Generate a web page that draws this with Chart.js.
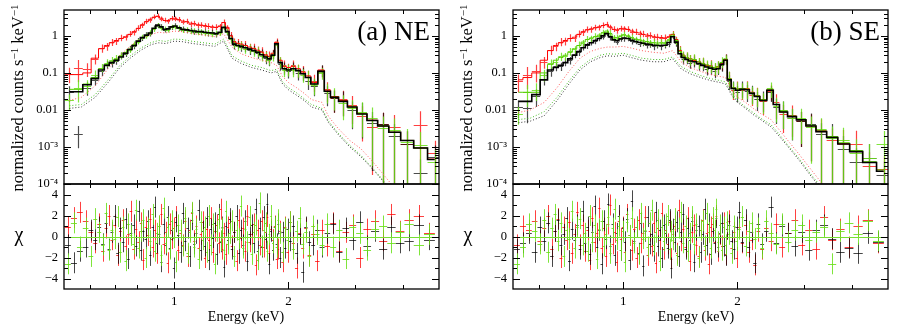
<!DOCTYPE html>
<html>
<head>
<meta charset="utf-8">
<script src="https://cdn.jsdelivr.net/npm/chart.js@4.4.1/dist/chart.umd.min.js"></script>
<style>
  html, body { margin: 0; padding: 0; background: #fff; }
  body { width: 900px; height: 332px; position: relative; overflow: hidden; font-family: "Liberation Serif", serif; color: #000; }
  canvas { position: absolute; }
  .ylab { position: absolute; font-size: 16.5px; white-space: nowrap; line-height: 1; transform: translate(-50%, -50%) rotate(-90deg); }
  .ylab sup { font-size: 11px; vertical-align: 0.45em; line-height: 0; }
  .chi { position: absolute; font-size: 20px; line-height: 1; transform: translate(-50%, -50%); }
  .xlab { position: absolute; font-size: 14px; line-height: 1; white-space: nowrap; transform: translate(-50%, -50%); }
  .tag { position: absolute; font-size: 27px; line-height: 27px; white-space: nowrap; }
</style>
</head>
<body>
<canvas id="neSpec" width="445" height="200" style="left:0;top:0"></canvas>
<canvas id="neChi" width="445" height="162" style="left:0;top:170px"></canvas>
<canvas id="seSpec" width="445" height="200" style="left:449px;top:0"></canvas>
<canvas id="seChi" width="445" height="162" style="left:449px;top:170px"></canvas>

<div class="ylab" style="left:18px;top:98px">normalized counts s<sup>−1</sup> keV<sup>−1</sup></div>
<div class="ylab" style="left:467px;top:98px">normalized counts s<sup>−1</sup> keV<sup>−1</sup></div>
<div class="chi" style="left:19px;top:234px">χ</div>
<div class="chi" style="left:468px;top:234px">χ</div>
<div class="xlab" style="left:246px;top:317px">Energy (keV)</div>
<div class="xlab" style="left:696px;top:317px">Energy (keV)</div>
<div class="tag" style="right:470px;top:18px">(a) NE</div>
<div class="tag" style="right:20px;top:18px">(b) SE</div>

<script>
// spectral bin centres (keV), shared by both regions
const energy = [
  0.53, 0.56, 0.59, 0.62, 0.645, 0.665, 0.685, 0.705, 0.725, 0.745,
  0.765, 0.785, 0.805, 0.825, 0.845, 0.865, 0.885, 0.905, 0.925, 0.945,
  0.965, 0.985, 1.005, 1.03, 1.055, 1.08, 1.105, 1.13, 1.155, 1.18,
  1.205, 1.23, 1.26, 1.29, 1.32, 1.35, 1.38, 1.41, 1.44, 1.47,
  1.50, 1.54, 1.58, 1.62, 1.66, 1.70, 1.74, 1.78, 1.82, 1.86,
  1.90, 1.95, 2.00, 2.06, 2.12, 2.18, 2.25, 2.33, 2.45, 2.52,
  2.64, 2.78, 2.94, 3.12, 3.32, 3.55, 3.80, 4.10, 4.45, 4.85
];
// residual bin centres (keV)
const chiEnergy = [
  0.525, 0.545, 0.565, 0.585, 0.605, 0.62, 0.635, 0.65, 0.662, 0.674,
  0.686, 0.698, 0.71, 0.722, 0.734, 0.746, 0.758, 0.77, 0.782, 0.794,
  0.806, 0.818, 0.83, 0.842, 0.854, 0.866, 0.878, 0.89, 0.902, 0.914,
  0.926, 0.938, 0.95, 0.962, 0.974, 0.986, 0.998, 1.01, 1.025, 1.04,
  1.055, 1.07, 1.085, 1.1, 1.115, 1.13, 1.145, 1.16, 1.175, 1.19,
  1.205, 1.22, 1.235, 1.25, 1.265, 1.28, 1.295, 1.31, 1.325, 1.34,
  1.355, 1.37, 1.385, 1.4, 1.42, 1.44, 1.46, 1.48, 1.5, 1.52,
  1.54, 1.56, 1.58, 1.6, 1.62, 1.64, 1.66, 1.68, 1.7, 1.72,
  1.74, 1.76, 1.78, 1.8, 1.82, 1.84, 1.86, 1.88, 1.9, 1.93,
  1.96, 1.99, 2.02, 2.06, 2.1, 2.14, 2.18, 2.22, 2.27, 2.32,
  2.38, 2.45, 2.53, 2.62, 2.72, 2.83, 2.95, 3.08, 3.22, 3.38,
  3.55, 3.73, 3.93, 4.15, 4.4, 4.7
];
// energies of the dotted background components
const bgEnergy = [
  0.53, 0.57, 0.62, 0.67, 0.72, 0.77, 0.82, 0.87, 0.91, 0.95,
  1.0, 1.05, 1.12, 1.2, 1.28, 1.35, 1.42, 1.5, 1.6, 1.7,
  1.8, 1.86, 1.93, 2.0, 2.1, 2.2, 2.3, 2.45, 2.55, 2.7,
  2.9, 3.1, 3.3, 3.5, 3.7, 3.9, 4.2, 4.5
];

const specTicks = [1e-4, 1e-3, 0.01, 0.1, 1];
const specTickLabels = ['10⁻⁴', '10⁻³', '0.01', '0.1', '1'];
const chiTicks = [-4, -2, 0, 2, 4];
const chiTickLabels = ['−4', '−2', '0', '2', '4'];
const energyTicks = [1, 2];
const energyTickLabels = ['1', '2'];

// ---- (a) NE ----
const neBlackModel = [
  0.031, 0.031, 0.048, 0.07, 0.12, 0.16, 0.19, 0.22, 0.27, 0.34,
  0.43, 0.55, 0.72, 0.9, 1.05, 1.2, 1.6, 1.95, 1.75, 1.5,
  1.55, 1.75, 1.85, 1.65, 1.5, 1.45, 1.4, 1.35, 1.3, 1.3,
  1.25, 1.22, 1.2, 1.15, 1.25, 1.7, 1.3, 0.85, 0.6, 0.55,
  0.52, 0.48, 0.44, 0.4, 0.36, 0.31, 0.27, 0.24, 0.3, 0.61,
  0.19, 0.13, 0.12, 0.13, 0.115, 0.095, 0.075, 0.05, 0.11, 0.032,
  0.022, 0.017, 0.012, 0.0078, 0.0052, 0.0037, 0.0025, 0.0015, 0.00094, 0.00046
];
const neRedModel = [
  0.09, 0.09, 0.1, 0.25, 0.45, 0.55, 0.65, 0.75, 0.85, 0.95,
  1.1, 1.3, 1.6, 2.0, 2.4, 2.8, 3.2, 3.4, 3.0, 2.6,
  2.6, 2.9, 3.0, 2.7, 2.5, 2.4, 2.2, 2.1, 2.0, 1.95,
  1.9, 1.8, 1.75, 1.7, 1.85, 2.3, 1.7, 1.0, 0.7, 0.63,
  0.6, 0.55, 0.5, 0.46, 0.41, 0.36, 0.31, 0.28, 0.34, 0.68,
  0.22, 0.15, 0.14, 0.15, 0.13, 0.105, 0.083, 0.055, 0.12, 0.034,
  0.023, 0.018, 0.012, 0.008, 0.0053, 0.0037, 0.0025, 0.0015, 0.00094, 0.00047
];
const neGreenModel = [
  0.036, 0.036, 0.05, 0.075, 0.13, 0.17, 0.2, 0.23, 0.28, 0.35,
  0.44, 0.56, 0.72, 0.88, 1.02, 1.18, 1.55, 1.9, 1.7, 1.48,
  1.52, 1.7, 1.8, 1.6, 1.47, 1.42, 1.37, 1.32, 1.28, 1.27,
  1.22, 1.2, 1.17, 1.13, 1.22, 1.65, 1.27, 0.84, 0.6, 0.55,
  0.52, 0.48, 0.44, 0.4, 0.36, 0.31, 0.27, 0.24, 0.3, 0.6,
  0.19, 0.13, 0.12, 0.13, 0.115, 0.095, 0.075, 0.05, 0.105, 0.031,
  0.022, 0.017, 0.012, 0.0078, 0.0052, 0.0037, 0.0025, 0.0015, 0.00094, 0.00046
];
const neBlackData = [
  0.03, 0.0023, 0.04, 0.065, 0.11, 0.17, 0.18, 0.21, 0.29, 0.33,
  0.45, 0.53, 0.75, 0.86, 1.08, 1.15, 1.65, 1.9, 1.8, 1.45,
  1.6, 1.7, 1.9, 1.6, 1.55, 1.4, 1.45, 1.3, 1.35, 1.25,
  1.28, 1.18, 1.25, 1.1, 1.3, 1.75, 1.25, 0.9, 0.57, 0.58,
  0.5, 0.5, 0.42, 0.42, 0.34, 0.33, 0.25, 0.22, 0.32, 0.65,
  0.17, 0.14, 0.11, 0.14, 0.1, 0.1, 0.06, 0.045, 0.12, 0.028,
  0.021, 0.019, 0.01, 0.0085, 0.0045, 0.0042, 0.002, 0.0012, 0.0002, 0.00052
];
const neRedData = [
  0.095, 0.14, 0.13, 0.24, 0.47, 0.52, 0.68, 0.72, 0.9, 0.92,
  1.15, 1.25, 1.65, 1.95, 2.5, 2.7, 3.3, 3.5, 2.9, 2.7,
  2.5, 3.0, 2.9, 2.8, 2.4, 2.5, 2.1, 2.2, 1.95, 2.0,
  1.85, 1.85, 1.7, 1.75, 1.8, 2.4, 1.65, 1.05, 0.68, 0.66,
  0.58, 0.57, 0.48, 0.48, 0.4, 0.38, 0.3, 0.29, 0.33, 0.7,
  0.2, 0.16, 0.13, 0.16, 0.12, 0.11, 0.08, 0.06, 0.115, 0.036,
  0.021, 0.02, 0.014, 0.007, 0.0035, 0.0042, 0.0035, 0.0012, 0.004, 0.0007
];
const neGreenData = [
  0.018, 0.04, 0.045, 0.09, 0.14, 0.19, 0.22, 0.25, 0.3, 0.37,
  0.42, 0.6, 0.7, 0.92, 1.0, 1.22, 1.5, 1.95, 1.65, 1.55,
  1.45, 1.75, 1.75, 1.65, 1.42, 1.47, 1.33, 1.38, 1.25, 1.3,
  1.2, 1.23, 1.12, 1.18, 1.2, 1.7, 1.3, 0.8, 0.63, 0.52,
  0.55, 0.45, 0.46, 0.38, 0.38, 0.29, 0.28, 0.23, 0.28, 0.58,
  0.2, 0.12, 0.125, 0.12, 0.12, 0.09, 0.08, 0.048, 0.1, 0.033,
  0.024, 0.015, 0.011, 0.009, 0.006, 0.0033, 0.0028, 0.0014, 0.0011, 0.0004
];
// fractional 1-sigma errors
const neErr = [
  0.45, 0.6, 0.4, 0.3, 0.25, 0.24, 0.22, 0.21, 0.2, 0.19,
  0.18, 0.18, 0.17, 0.16, 0.16, 0.16, 0.15, 0.15, 0.15, 0.15,
  0.15, 0.15, 0.15, 0.16, 0.16, 0.16, 0.17, 0.17, 0.17, 0.17,
  0.18, 0.18, 0.18, 0.18, 0.17, 0.16, 0.18, 0.22, 0.25, 0.25,
  0.26, 0.27, 0.27, 0.28, 0.29, 0.3, 0.31, 0.31, 0.27, 0.21,
  0.33, 0.36, 0.36, 0.36, 0.38, 0.4, 0.42, 0.48, 0.35, 0.55,
  0.6, 0.65, 0.7, 0.8, 0.95, 1.0, 1.1, 1.2, 1.3, 1.1
];
const neRedBg = [
  0.018, 0.022, 0.045, 0.13, 0.3, 0.55, 0.85, 1.1, 1.25, 1.2,
  1.35, 1.3, 1.15, 1.05, 0.95, 1.15, 0.5, 0.33, 0.26, 0.22,
  0.19, 0.16, 0.08, 0.055, 0.04, 0.028, 0.019, 0.016, 0.0066, 0.0032,
  0.0015, 0.0009, 0.00045, 0.00022, 0.00011, 0.00005, 0.00002, 0.000008
];
const neBlackBg = [
  0.011, 0.012, 0.022, 0.055, 0.14, 0.26, 0.42, 0.58, 0.65, 0.62,
  0.72, 0.7, 0.62, 0.57, 0.52, 0.72, 0.25, 0.18, 0.14, 0.12,
  0.1, 0.11, 0.05, 0.035, 0.025, 0.018, 0.012, 0.01, 0.0045, 0.0022,
  0.001, 0.00055, 0.00028, 0.00014, 0.00007, 0.000035, 0.000012, 0.000005
];
const neGreenBg = [
  0.013, 0.014, 0.026, 0.065, 0.16, 0.3, 0.48, 0.66, 0.75, 0.71,
  0.82, 0.8, 0.71, 0.65, 0.6, 0.82, 0.29, 0.21, 0.16, 0.14,
  0.115, 0.125, 0.057, 0.04, 0.029, 0.02, 0.014, 0.011, 0.005, 0.0024,
  0.0011, 0.0006, 0.0003, 0.00015, 0.000075, 0.000037, 0.000013, 0.000005
];
const neRedChi = [
  0.9, 1.8, 2.3, 1.5, 0.4, -0.6, 1.2, -1.4, 0.8, 2.0,
  -0.3, 1.1, -1.8, 0.5, 1.6, -0.9, 0.2, 2.4, -1.2, 0.7,
  -0.5, 1.3, -2.2, 0.9, 0.1, 1.7, -1.0, 0.6, -1.6, 1.0,
  2.1, -0.7, 0.4, -2.5, 1.2, -0.2, 0.8, 1.9, -1.3, 0.3,
  -0.8, 1.5, -1.9, 0.6, 2.2, -0.4, 1.0, -1.1, 0.2, 1.4,
  -2.0, 0.7, -0.3, 1.8, -1.5, 0.5, 1.1, -0.6, 2.6, -1.2,
  0.3, -1.7, 0.9, 1.3, -0.9, 0.4, -2.3, 1.6, -0.1, 0.8,
  -1.4, 2.0, -0.5, 0.2, 1.2, -2.7, 0.6, -0.8, 1.5, -1.0,
  0.4, 1.9, -1.6, 0.7, -0.3, 1.0, -2.1, -1.2, 0.5, -2.4,
  0.9, -1.5, 1.4, -0.6, -3.0, 0.3, -1.1, 0.8, -1.8, 0.2,
  -2.3, 0.6, -0.9, 1.3, -1.4, 0.4, 1.1, -2.0, 0.7, 1.5,
  -0.4, 2.1, 0.5, 1.6, 2.0, 0.3
];
const neBlackChi = [
  -0.8, -2.5, -1.4, -1.0, 0.6, -0.3, 0.9, -0.7, 1.3, -1.2,
  0.4, 2.0, -1.6, 0.8, -0.5, 1.7, -2.1, 0.3, 1.1, -0.9,
  2.4, -1.3, 0.5, -0.2, 1.5, -1.8, 0.9, 2.8, -0.6, 0.2,
  -2.4, 1.2, -0.8, 1.9, -1.1, 0.6, -3.0, 1.4, 0.1, -1.5,
  2.2, -0.4, 0.8, -1.9, 1.6, -0.7, 0.3, 2.5, -1.3, 0.5,
  -0.9, 1.8, -2.2, 0.7, -0.1, 1.3, -1.7, 2.1, -0.5, 0.9,
  -2.9, 1.0, -0.3, 1.7, -1.2, 0.4, 2.0, -1.6, 0.6, -0.8,
  1.5, -2.3, 0.2, 1.1, -0.6, 2.6, -1.4, 0.8, -1.0, 1.9,
  -0.2, 3.1, -2.6, 0.5, -1.3, 0.9, -0.7, 1.2, -2.0, 0.4,
  -1.1, 0.7, -0.4, 1.0, -1.6, 0.2, -3.4, 0.9, -0.5, -0.8,
  0.6, -1.0, 0.3, 1.2, -1.5, 0.8, -0.3, 1.4, -0.9, 0.5,
  -1.2, 0.9, -0.6, -0.4, 1.1, -0.3
];
const neGreenChi = [
  -2.6, 1.3, -1.0, 0.8, -1.9, 1.7, 0.4, -0.8, 2.2, -1.3,
  0.6, -0.2, 1.9, -1.5, 0.9, -2.3, 1.2, 0.1, -0.7, 2.5,
  -1.1, 0.5, 1.6, -2.0, 0.8, -0.4, 2.1, -1.4, 0.3, 1.0,
  -1.8, 2.7, -0.6, 0.9, -1.2, 1.5, -0.1, -2.4, 1.1, 0.6,
  -0.9, 1.8, -1.6, 0.4, 2.3, -1.0, 0.7, -2.1, 1.4, -0.3,
  0.9, -1.5, 2.0, -0.8, 1.2, -2.6, 0.5, 1.7, -0.4, 0.8,
  -1.3, 2.4, -0.7, 0.3, 1.5, -1.9, 0.6, -0.2, 2.9, -1.1,
  0.7, -0.5, 1.9, -1.7, 0.4, 1.1, -2.2, 3.2, -0.9, 0.6,
  1.3, -1.4, 0.2, 2.0, -0.6, 0.9, -1.0, 1.6, 0.3, -1.5,
  0.8, -0.3, 1.4, -1.2, 0.5, 1.8, -0.7, 0.4, -1.9, 1.0,
  0.2, -0.8, 1.2, -1.0, 0.6, -2.1, 0.9, 0.3, -1.3, 0.7,
  1.0, -0.6, 0.4, 1.2, -0.8, 0.2
];

// ---- (b) SE ----
const seBlackModel = [
  0.017, 0.017, 0.026, 0.065, 0.12, 0.14, 0.16, 0.19, 0.24, 0.3,
  0.38, 0.48, 0.57, 0.65, 0.75, 0.85, 1.0, 1.15, 0.95, 0.78,
  0.74, 0.82, 0.88, 0.85, 0.76, 0.7, 0.66, 0.63, 0.6, 0.58,
  0.56, 0.55, 0.55, 0.56, 0.66, 0.95, 0.68, 0.33, 0.26, 0.23,
  0.21, 0.2, 0.18, 0.16, 0.145, 0.135, 0.125, 0.13, 0.17, 0.22,
  0.065, 0.038, 0.034, 0.036, 0.035, 0.028, 0.023, 0.018, 0.034, 0.014,
  0.0088, 0.0066, 0.0054, 0.0037, 0.0026, 0.0018, 0.0012, 0.00075, 0.00038, 0.00022
];
const seRedModel = [
  0.065, 0.075, 0.1, 0.22, 0.4, 0.55, 0.65, 0.75, 0.85, 0.92,
  1.1, 1.3, 1.45, 1.55, 1.65, 1.75, 1.9, 2.0, 1.75, 1.5,
  1.45, 1.55, 1.6, 1.5, 1.35, 1.25, 1.2, 1.1, 1.05, 1.0,
  0.95, 0.92, 0.9, 0.88, 0.95, 1.1, 0.8, 0.4, 0.3, 0.26,
  0.24, 0.22, 0.2, 0.18, 0.16, 0.15, 0.14, 0.145, 0.18, 0.23,
  0.07, 0.04, 0.036, 0.038, 0.037, 0.03, 0.024, 0.019, 0.035, 0.014,
  0.0088, 0.0066, 0.0054, 0.0037, 0.0026, 0.0018, 0.0012, 0.00075, 0.00038, 0.00022
];
const seGreenModel = [
  0.03, 0.03, 0.03, 0.1, 0.17, 0.22, 0.26, 0.3, 0.36, 0.45,
  0.55, 0.68, 0.8, 0.88, 0.95, 1.05, 1.2, 1.35, 1.15, 0.92,
  0.88, 1.0, 1.05, 1.0, 0.88, 0.82, 0.77, 0.73, 0.7, 0.67,
  0.65, 0.64, 0.64, 0.65, 0.76, 1.05, 0.75, 0.38, 0.3, 0.26,
  0.24, 0.23, 0.2, 0.18, 0.165, 0.15, 0.14, 0.145, 0.19, 0.24,
  0.07, 0.04, 0.036, 0.038, 0.036, 0.029, 0.024, 0.019, 0.035, 0.014,
  0.009, 0.0068, 0.0055, 0.0038, 0.0027, 0.0019, 0.0013, 0.0008, 0.0004, 0.00024
];
const seBlackData = [
  0.012, 0.011, 0.024, 0.07, 0.11, 0.15, 0.15, 0.2, 0.22, 0.32,
  0.36, 0.5, 0.55, 0.68, 0.72, 0.88, 0.96, 1.2, 0.92, 0.8,
  0.7, 0.85, 0.85, 0.88, 0.72, 0.73, 0.62, 0.66, 0.57, 0.6,
  0.52, 0.58, 0.52, 0.58, 0.62, 1.0, 0.64, 0.35, 0.24, 0.25,
  0.19, 0.21, 0.17, 0.17, 0.13, 0.14, 0.115, 0.14, 0.16, 0.24,
  0.06, 0.04, 0.03, 0.04, 0.032, 0.03, 0.02, 0.02, 0.03, 0.012,
  0.01, 0.006, 0.005, 0.0042, 0.0022, 0.002, 0.0009, 0.0004, 0.0005, 0.00018
];
const seRedData = [
  0.06, 0.09, 0.11, 0.2, 0.42, 0.52, 0.7, 0.72, 0.9, 0.88,
  1.15, 1.25, 1.5, 1.5, 1.7, 1.7, 1.95, 2.05, 1.7, 1.55,
  1.4, 1.6, 1.55, 1.55, 1.3, 1.3, 1.15, 1.15, 1.0, 1.05,
  0.92, 0.95, 0.87, 0.9, 0.92, 1.15, 0.78, 0.42, 0.28, 0.27,
  0.23, 0.23, 0.19, 0.19, 0.15, 0.16, 0.13, 0.15, 0.17, 0.24,
  0.075, 0.035, 0.04, 0.035, 0.04, 0.026, 0.026, 0.017, 0.032, 0.016,
  0.008, 0.0075, 0.005, 0.004, 0.0028, 0.0015, 0.0013, 0.0012, 0.0003, 0.00025
];
const seGreenData = [
  0.008, 0.03, 0.035, 0.09, 0.18, 0.2, 0.28, 0.28, 0.38, 0.43,
  0.58, 0.65, 0.84, 0.85, 1.0, 1.0, 1.25, 1.3, 1.2, 0.9,
  0.92, 0.98, 1.1, 0.97, 0.92, 0.8, 0.8, 0.7, 0.73, 0.65,
  0.68, 0.62, 0.67, 0.63, 0.8, 1.1, 0.72, 0.4, 0.29, 0.27,
  0.23, 0.24, 0.19, 0.19, 0.16, 0.155, 0.135, 0.15, 0.2, 0.23,
  0.075, 0.038, 0.038, 0.036, 0.038, 0.028, 0.025, 0.018, 0.038, 0.013,
  0.01, 0.0062, 0.006, 0.0035, 0.003, 0.0017, 0.0015, 0.0007, 0.0005, 0.0012
];
const seErr = [
  0.5, 0.6, 0.5, 0.35, 0.28, 0.26, 0.25, 0.24, 0.23, 0.22,
  0.21, 0.2, 0.19, 0.19, 0.18, 0.18, 0.17, 0.17, 0.18, 0.18,
  0.18, 0.18, 0.18, 0.18, 0.19, 0.19, 0.19, 0.2, 0.2, 0.2,
  0.21, 0.21, 0.21, 0.21, 0.2, 0.18, 0.21, 0.27, 0.3, 0.31,
  0.32, 0.33, 0.33, 0.35, 0.35, 0.37, 0.38, 0.37, 0.33, 0.3,
  0.43, 0.47, 0.47, 0.47, 0.49, 0.51, 0.53, 0.57, 0.45, 0.65,
  0.7, 0.75, 0.8, 0.9, 1.0, 1.1, 1.2, 1.3, 1.4, 1.25
];
const seRedBg = [
  0.0085, 0.01, 0.016, 0.04, 0.11, 0.25, 0.38, 0.46, 0.5, 0.5,
  0.52, 0.47, 0.4, 0.36, 0.34, 0.4, 0.2, 0.14, 0.11, 0.09,
  0.08, 0.075, 0.035, 0.022, 0.016, 0.011, 0.008, 0.0055, 0.0033, 0.0016,
  0.00065, 0.00027, 0.00012, 0.00005, 0.00002, 0.000008, 0.000003, 0.000001
];
const seBlackBg = [
  0.0045, 0.005, 0.007, 0.018, 0.05, 0.12, 0.2, 0.26, 0.29, 0.28,
  0.3, 0.26, 0.22, 0.2, 0.2, 0.24, 0.13, 0.095, 0.075, 0.062,
  0.055, 0.05, 0.025, 0.016, 0.011, 0.0075, 0.0055, 0.0035, 0.0022, 0.0011,
  0.00045, 0.00018, 0.00008, 0.000035, 0.000015, 0.000006, 0.000002, 0.000001
];
const seGreenBg = [
  0.0055, 0.006, 0.009, 0.022, 0.06, 0.14, 0.23, 0.3, 0.33, 0.32,
  0.34, 0.3, 0.25, 0.23, 0.23, 0.27, 0.15, 0.11, 0.085, 0.07,
  0.062, 0.057, 0.028, 0.018, 0.012, 0.0085, 0.006, 0.004, 0.0025, 0.0012,
  0.0005, 0.0002, 0.00009, 0.00004, 0.000017, 0.000007, 0.000002, 0.000001
];
const seRedChi = [
  -0.8, 1.0, 0.6, 1.5, -0.4, 0.8, 2.0, -1.2, 0.5, 1.7,
  -2.0, 0.9, -0.3, 1.4, -1.6, 0.2, 2.3, -0.8, 1.1, -1.4,
  0.6, -2.2, 1.8, -0.5, 0.3, 2.7, -1.1, 0.8, -1.9, 1.2,
  3.0, -0.7, 0.4, -2.4, 1.5, -0.2, 0.9, -1.5, 2.1, 0.1,
  -1.3, 0.7, -2.0, 1.6, -0.6, 0.3, 1.9, -1.8, 0.5, -0.9,
  1.3, -2.5, 0.8, -0.3, 2.2, -1.2, 0.6, -0.7, 1.4, -2.1,
  0.2, 1.0, -1.6, 2.5, -0.4, 0.7, -1.0, 1.8, -2.3, 0.4,
  1.1, -0.8, -1.9, 0.6, 1.6, -1.3, 0.3, -2.6, 0.9, 1.2,
  -0.5, 2.0, -1.4, 0.2, -0.9, 1.3, -1.7, 0.7, 1.5, -1.1,
  0.4, -2.0, 0.9, -0.6, 1.1, -1.5, -0.3, -2.7, 0.5, -1.2,
  0.8, -0.4, 1.2, -1.0, 0.3, 1.6, -0.8, 0.6, -1.2, 1.9,
  -0.3, 0.7, -1.0, 1.0, 1.6, -0.6
];
const seBlackChi = [
  -1.2, -0.6, 0.3, -1.5, 0.9, -0.4, 1.3, -1.9, 0.5, 1.6,
  -0.8, 0.2, 1.8, -2.3, 0.7, -0.3, 1.1, -1.2, 2.4, -0.6,
  0.9, -1.7, 0.4, 2.9, -1.0, 0.6, -2.6, 1.5, -0.2, 3.1,
  -0.9, 1.2, -1.8, 0.3, 2.0, -1.3, 0.8, -0.5, 1.7, -2.2,
  3.4, -0.4, 0.9, -1.6, 1.3, -2.8, 0.5, 1.9, -0.7, 0.2,
  -1.4, 2.3, -0.9, 0.6, -2.0, 1.1, 0.3, -1.1, 1.6, -3.0,
  0.7, -0.5, 1.4, -1.9, 0.4, 2.1, -1.2, 0.8, -0.3, 1.5,
  -2.4, 0.6, 1.0, -1.5, 0.2, 2.6, -0.8, 1.2, -1.7, 0.5,
  -0.6, 1.8, -1.0, 0.3, 1.3, -0.9, -1.8, 0.7, 1.1, -0.4,
  -1.2, 0.9, 2.3, -0.5, 1.6, -1.0, 0.4, -2.5, 1.2, -0.7,
  0.5, 2.8, -0.6, 1.0, 0.3, -0.9, 0.4, -1.3, 0.6, 1.1,
  -0.2, -1.5, -1.1, -1.6, 0.3, -0.5
];
const seGreenChi = [
  -2.6, -1.0, 1.2, 0.5, -0.7, 1.6, -1.5, 0.8, 2.1, -0.4,
  1.3, -1.9, 0.6, -0.2, 2.4, -1.1, 0.9, 1.7, -0.8, 0.3,
  -1.4, 2.0, -0.5, 1.1, -2.1, 0.7, 1.5, -0.9, 0.2, 1.9,
  -1.6, 0.8, 2.6, -0.3, 1.0, -1.3, 0.5, -2.4, 1.4, 0.1,
  1.8, -0.6, 0.9, -1.7, 2.2, -0.2, 0.6, -1.0, 1.3, 2.5,
  -0.8, 0.4, 1.6, -2.3, 0.9, -0.4, 1.2, 2.0, -1.2, 0.5,
  -0.3, 1.7, -1.8, 0.8, 2.3, -0.6, 1.0, -1.4, 0.3, 1.9,
  -0.7, 1.2, -2.0, 0.6, 1.5, -0.9, 2.2, 0.4, -1.1, 1.8,
  0.6, 2.6, -0.5, 1.1, -1.3, 0.9, -0.8, 1.4, 0.2, -1.6,
  1.0, -0.4, 0.7, 1.9, -0.9, 0.5, 1.3, -0.2, 0.8, -1.1,
  1.5, 0.3, -0.7, 1.2, -0.5, 0.6, 1.1, -0.3, 0.4, 0.9,
  -2.6, 0.5, 1.3, 0.2, 1.5, -0.4
];

// ---------------- drawing ----------------
const RED = '#ff0000', BLACK = '#000000';
const tickFont = { family: 'Liberation Serif', size: 12.5 };
const E_MIN = 0.513, E_MAX = 4.98;

// bin edges half way (in log) between neighbouring centres
function makeBins(grid) {
  return grid.map((e, i) => {
    const prev = i > 0 ? grid[i - 1] : e * e / grid[i + 1];
    const next = i < grid.length - 1 ? grid[i + 1] : e * e / grid[i - 1];
    return [Math.sqrt(prev * e), Math.sqrt(e * next)];
  });
}
const specBins = makeBins(energy);
const chiBins = makeBins(chiEnergy);

const pts = (xs, ys) => xs.map((x, i) => ({ x: x, y: ys[i] }));

const errorBars = {
  id: 'errorBars',
  beforeDatasetsDraw(chart) {
    const { ctx, chartArea: a, scales: { x, y } } = chart;
    ctx.save();
    ctx.beginPath();
    ctx.rect(a.left, a.top, a.width, a.height);
    ctx.clip();
    chart.data.datasets.forEach(ds => {
      if (!ds.err) return;
      ctx.strokeStyle = ds.errColor;
      ctx.lineWidth = ds.errWidth;
      ctx.beginPath();
      ds.data.forEach((p, i) => {
        const e = Array.isArray(ds.err) ? ds.err[i] : ds.err;
        const lo = ds.relErr ? p.y * (1 - e) : p.y - e;
        const hi = ds.relErr ? p.y * (1 + e) : p.y + e;
        const px = Math.round(x.getPixelForValue(p.x)) + 0.5;
        const py = Math.round(y.getPixelForValue(p.y)) + 0.5;
        const yLo = (!ds.relErr || lo > 0) ? y.getPixelForValue(lo) : a.bottom + 5;
        ctx.moveTo(px, yLo);
        ctx.lineTo(px, y.getPixelForValue(hi));
        ctx.moveTo(x.getPixelForValue(ds.bins[i][0]), py);
        ctx.lineTo(x.getPixelForValue(ds.bins[i][1]), py);
      });
      ctx.stroke();
    });
    ctx.restore();
  }
};

const frame = {
  id: 'frame',
  afterDatasetsDraw(chart, args, o) {
    const { ctx, chartArea: a, scales: { x, y } } = chart;
    ctx.save();
    if (o.zeroColor) {
      const z = Math.round(y.getPixelForValue(0)) + 0.5;
      ctx.strokeStyle = o.zeroColor;
      ctx.lineWidth = 1.2;
      ctx.beginPath();
      ctx.moveTo(a.left, z);
      ctx.lineTo(a.right, z);
      ctx.stroke();
    }
    ctx.strokeStyle = '#000';
    ctx.lineWidth = 1;
    ctx.beginPath();
    const tx = (v, len) => {
      const p = Math.round(x.getPixelForValue(v)) + 0.5;
      ctx.moveTo(p, a.top); ctx.lineTo(p, a.top + len);
      ctx.moveTo(p, a.bottom); ctx.lineTo(p, a.bottom - len);
    };
    const ty = (v, len) => {
      const p = Math.round(y.getPixelForValue(v)) + 0.5;
      ctx.moveTo(a.left, p); ctx.lineTo(a.left + len, p);
      ctx.moveTo(a.right, p); ctx.lineTo(a.right - len, p);
    };
    o.xMajor.forEach(v => tx(v, 7));
    o.xMinor.forEach(v => tx(v, 4));
    o.yMajor.forEach(v => ty(v, 7));
    o.yMinor.forEach(v => ty(v, 4));
    ctx.stroke();
    ctx.lineWidth = 1.3;
    ctx.strokeRect(a.left, a.top, a.width, a.height);
    ctx.restore();
  }
};

const xMinor = [0.6, 0.7, 0.8, 0.9, 3, 4];
const logMinor = [];
for (let n = -4; n <= 0; n++) {
  for (let k = 2; k <= 9; k++) {
    if (k * Math.pow(10, n) < 5) logMinor.push(k * Math.pow(10, n));
  }
}

function model(ys, color, width) {
  return { data: pts(energy, ys), showLine: true, stepped: 'middle', borderColor: color,
           borderWidth: width, pointRadius: 0, fill: false };
}
function bg(ys, color) {
  return { data: pts(bgEnergy, ys), showLine: true, borderColor: color, borderWidth: 1,
           borderDash: [1, 2], pointRadius: 0, fill: false, tension: 0 };
}
function points(grid, bins, ys, err, color, rel, width) {
  return { data: pts(grid, ys), bins: bins, err: err, relErr: rel, errColor: color,
           errWidth: width, pointRadius: 0, showLine: false };
}

function yAxisFit(s) {
  s.width = 64;
  s.paddingTop = 0;
  s.paddingBottom = 0;
}

function specChart(id, r) {
  return new Chart(document.getElementById(id), {
    type: 'scatter',
    data: {
      datasets: [
        model(r.blackModel, BLACK, 1.6),
        model(r.greenModel, '#55cc00', 1),
        model(r.redModel, RED, 1),
        bg(r.blackBg, '#333333'),
        bg(r.greenBg, '#44bb22'),
        bg(r.redBg, '#ff5a5a'),
        points(energy, specBins, r.redData, r.err, 'rgba(255,0,0,0.75)', true, 1.2),
        points(energy, specBins, r.blackData, r.err, 'rgba(0,0,0,0.7)', true, 1.2),
        points(energy, specBins, r.greenData, r.err, 'rgba(105,225,25,0.85)', true, 1.2)
      ]
    },
    options: {
      responsive: false, maintainAspectRatio: false, animation: false, devicePixelRatio: 1,
      layout: { padding: { left: 0, top: 10, right: 6, bottom: 16 } },
      plugins: {
        legend: { display: false }, tooltip: { enabled: false },
        frame: { xMajor: energyTicks, xMinor: xMinor, yMajor: specTicks, yMinor: logMinor }
      },
      scales: {
        x: { type: 'logarithmic', min: E_MIN, max: E_MAX, display: false },
        y: {
          type: 'logarithmic', min: 1e-4, max: 5,
          afterFit: yAxisFit,
          afterBuildTicks: s => { s.ticks = specTicks.map(v => ({ value: v })); },
          ticks: { autoSkip: false, padding: 6, color: '#000', font: tickFont,
                   callback: (v, i) => specTickLabels[i] },
          grid: { display: false, drawTicks: false },
          border: { display: false }
        }
      }
    },
    plugins: [errorBars, frame]
  });
}

function chiChart(id, r) {
  return new Chart(document.getElementById(id), {
    type: 'scatter',
    data: {
      datasets: [
        points(chiEnergy, chiBins, r.redChi, 1, 'rgba(255,0,0,0.75)', false, 1),
        points(chiEnergy, chiBins, r.blackChi, 1, 'rgba(0,0,0,0.72)', false, 1),
        points(chiEnergy, chiBins, r.greenChi, 1, 'rgba(105,225,25,0.85)', false, 1)
      ]
    },
    options: {
      responsive: false, maintainAspectRatio: false, animation: false, devicePixelRatio: 1,
      layout: { padding: { left: 0, top: 14, right: 6, bottom: 0 } },
      plugins: {
        legend: { display: false }, tooltip: { enabled: false },
        frame: { xMajor: energyTicks, xMinor: xMinor, yMajor: chiTicks, yMinor: [-3, -1, 1, 3],
                 zeroColor: '#77e033' }
      },
      scales: {
        x: {
          type: 'logarithmic', min: E_MIN, max: E_MAX,
          afterFit: s => { s.height = 43; s.paddingLeft = 0; s.paddingRight = 0; },
          afterBuildTicks: s => { s.ticks = energyTicks.map(v => ({ value: v })); },
          ticks: { autoSkip: false, maxRotation: 0, padding: 5, color: '#000',
                   font: { family: 'Liberation Serif', size: 13 },
                   callback: (v, i) => energyTickLabels[i] },
          grid: { display: false, drawTicks: false },
          border: { display: false }
        },
        y: {
          min: -5, max: 5,
          afterFit: yAxisFit,
          afterBuildTicks: s => { s.ticks = chiTicks.map(v => ({ value: v })); },
          ticks: { autoSkip: false, padding: 6, color: '#000', font: tickFont,
                   callback: (v, i) => chiTickLabels[i] },
          grid: { display: false, drawTicks: false },
          border: { display: false }
        }
      }
    },
    plugins: [errorBars, frame]
  });
}

const ne = {
  blackModel: neBlackModel, redModel: neRedModel, greenModel: neGreenModel,
  blackData: neBlackData, redData: neRedData, greenData: neGreenData, err: neErr,
  blackBg: neBlackBg, redBg: neRedBg, greenBg: neGreenBg,
  blackChi: neBlackChi, redChi: neRedChi, greenChi: neGreenChi
};
const se = {
  blackModel: seBlackModel, redModel: seRedModel, greenModel: seGreenModel,
  blackData: seBlackData, redData: seRedData, greenData: seGreenData, err: seErr,
  blackBg: seBlackBg, redBg: seRedBg, greenBg: seGreenBg,
  blackChi: seBlackChi, redChi: seRedChi, greenChi: seGreenChi
};

specChart('neSpec', ne);
chiChart('neChi', ne);
specChart('seSpec', se);
chiChart('seChi', se);
</script>
</body>
</html>
